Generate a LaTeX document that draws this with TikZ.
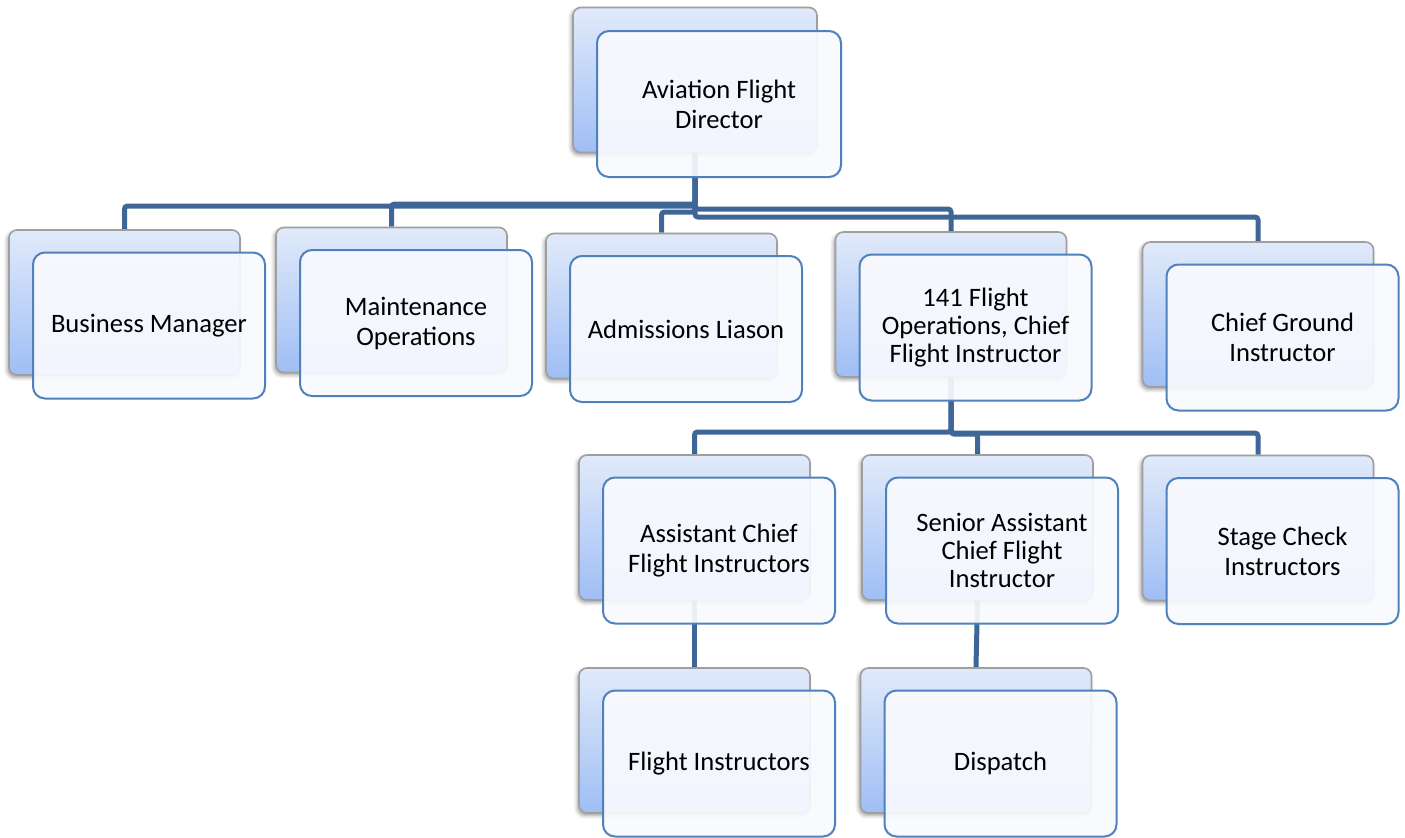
\documentclass[tikz,border=0pt]{standalone}
\usepackage{fontspec}
\setmainfont{Carlito}
\usetikzlibrary{backgrounds,positioning,shadows.blur}
\definecolor{linkblue}{HTML}{3E6797}
\definecolor{edgeblue}{HTML}{4F81BD}
\definecolor{shadetop}{HTML}{E1EAFA}
\definecolor{shadebot}{HTML}{9FBEF5}
\definecolor{paneface}{HTML}{F9FAFE}
\tikzset{
    backbox/.style={
        rectangle, rounded corners=4pt, inner sep=0pt,
        minimum width=115.5pt, minimum height=72.5pt,
        draw=gray!75, line width=0.8pt,
        top color=shadetop, bottom color=shadebot,
        blur shadow={shadow xshift=-0.8pt, shadow yshift=-1.2pt, shadow blur steps=4, shadow opacity=40}
    },
    frontbox/.style={
        rectangle, rounded corners=6pt, inner sep=0pt,
        minimum width=116pt, minimum height=73pt,
        draw=edgeblue, line width=1pt,
        fill=paneface, fill opacity=0.92, text opacity=1,
        align=center, font=\fontsize{13.3}{15}\selectfont
    },
    tightbox/.style={frontbox, font=\fontsize{13.3}{14}\selectfont},
    link/.style={draw=linkblue, line width=2.5pt, rounded corners=1.5pt}
}

\begin{document}
\begin{tikzpicture}[x=0.5pt, y=-0.5pt]
    \useasboundingbox (0,0) rectangle (1405,837);
    % director
    \node[backbox, minimum width=122pt] (dirB) at (695,80) {};
    \node[frontbox, minimum width=122pt] (dir) at ([shift={(24,24)}]dirB.center) {Aviation Flight\\Director};
    % second row
    \node[backbox] (bmB) at (124.5,302.5) {};
    \node[frontbox] (bm) at ([shift={(24.5,23)}]bmB.center) {Business Manager};
    \node[backbox] (moB) at (391.5,300) {};
    \node[frontbox] (mo) at ([shift={(24.5,23)}]moB.center) {Maintenance\\Operations};
    \node[backbox] (alB) at (661.5,306) {};
    \node[frontbox] (al) at ([shift={(24.5,23)}]alB.center) {Admissions Liason};
    \node[backbox] (foB) at (951,304.5) {};
    \node[tightbox] (fo) at ([shift={(24.5,23)}]foB.center) {141 Flight\\Operations, Chief\\Flight Instructor};
    \node[backbox] (cgB) at (1258,314.5) {};
    \node[frontbox] (cg) at ([shift={(24.5,23)}]cgB.center) {Chief Ground\\Instructor};
    % third row
    \node[backbox] (acB) at (694.5,527.5) {};
    \node[frontbox] (ac) at ([shift={(24.5,23)}]acB.center) {Assistant Chief\\Flight Instructors};
    \node[backbox] (saB) at (977.5,527.5) {};
    \node[tightbox] (sa) at ([shift={(24.5,23)}]saB.center) {Senior Assistant\\Chief Flight\\Instructor};
    \node[backbox] (scB) at (1258,528) {};
    \node[frontbox] (sc) at ([shift={(24.5,23)}]scB.center) {Stage Check\\Instructors};
    % fourth row
    \node[backbox] (fiB) at (694.5,740.5) {};
    \node[frontbox] (fi) at ([shift={(24.5,23)}]fiB.center) {Flight Instructors};
    \node[backbox] (diB) at (976,740.5) {};
    \node[frontbox] (di) at ([shift={(24.5,23)}]diB.center) {Dispatch};
    % connectors
    \begin{scope}[on background layer]
    \draw[link] (dirB.south) -- (dirB.south |- 0,206) -| (bmB.north);
    \draw[link] (dirB.south) -- (dirB.south |- 0,204) -| (moB.north);
    \draw[link] (dirB.south) -- (dirB.south |- 0,212) -| (alB.north);
    \draw[link] (dirB.south) -- (dirB.south |- 0,209) -| (foB.north);
    \draw[link] (dirB.south) -- (dirB.south |- 0,217) -| (cgB.north);
    \draw[link] (foB.south) -- (foB.south |- 0,432) -| (acB.north);
    \draw[link] (foB.south) -- (foB.south |- 0,434) -| (saB.north);
    \draw[link] (foB.south) -- (foB.south |- 0,433) -| (scB.north);
    \draw[link] (acB.south) -- (fiB.north);
    \draw[link] (saB.south) -- (diB.north);
    \end{scope}
\end{tikzpicture}
\end{document}
